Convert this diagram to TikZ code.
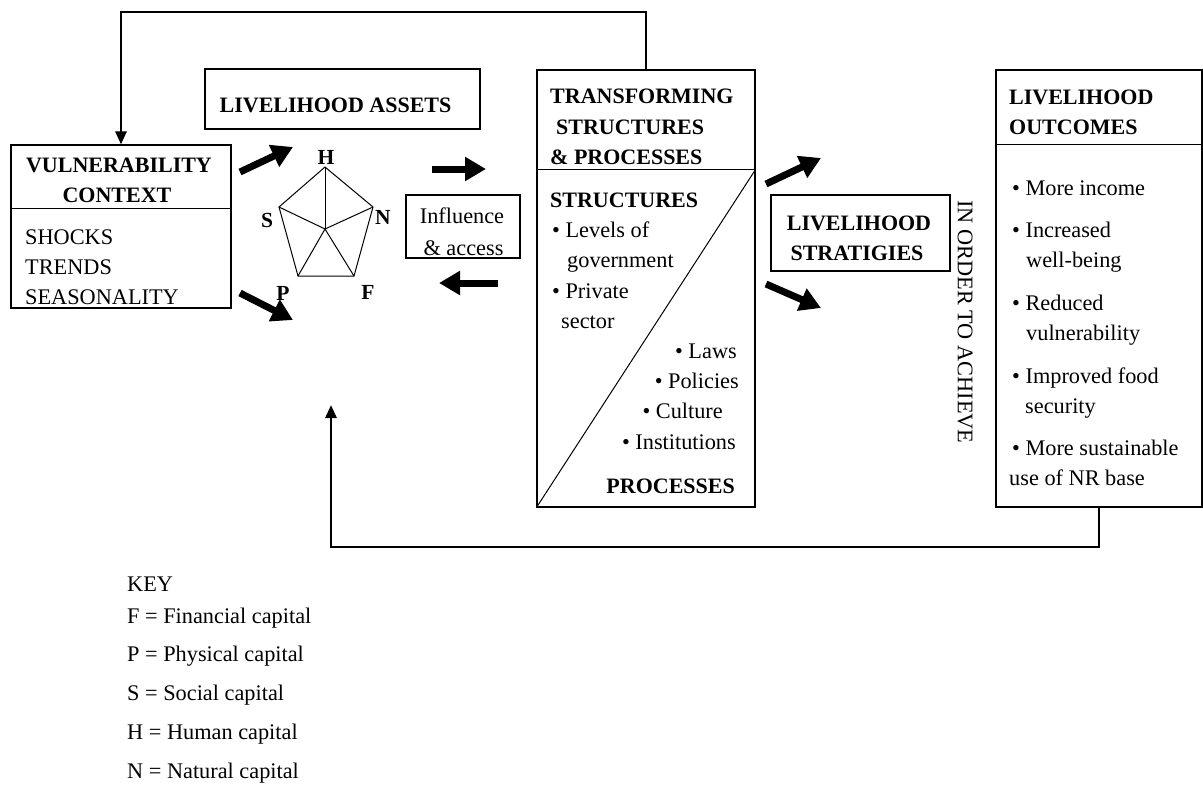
\documentclass[tikz,border=0pt]{standalone}
\usepackage{fontspec}
\setmainfont{Liberation Serif}
\usetikzlibrary{arrows.meta}
\tikzset{
box/.style={draw,line width=1.2pt,inner sep=0pt},
txt/.style={inner sep=0pt,font=\fontsize{22.3}{26}\selectfont},
hd/.style={inner sep=0pt,font=\fontsize{22}{26}\selectfont\bfseries},
lbl/.style={inner sep=0pt,font=\fontsize{21.5}{24}\selectfont\bfseries},
bigarrow/.style={line width=7pt,-{Triangle[length=21pt,width=23pt]}},
feedback/.style={line width=2.8pt,-{Triangle[length=13pt,width=11pt]}}
}
\begin{document}
\begin{tikzpicture}[x=1pt,y=-1pt]
\useasboundingbox (0,0) rectangle (1203,785);
\node[box,minimum width=220pt,minimum height=163pt] (vc) at (121,226.5) {};
\node[box,minimum width=275pt,minimum height=60pt] (la) at (342.5,99) {};
\node[box,minimum width=114pt,minimum height=63pt] (ia) at (463,226.5) {};
\node[box,minimum width=218pt,minimum height=437pt] (tsp) at (646,288.5) {};
\node[box,minimum width=179pt,minimum height=76pt] (ls) at (860.5,233) {};
\node[box,minimum width=206pt,minimum height=437pt] (lo) at (1099,288.5) {};
\draw[line width=1.2pt] ([yshift=-64pt]vc.north west) -- ([yshift=-64pt]vc.north east);
\draw[line width=1.2pt] ([yshift=-100pt]tsp.north west) -- ([yshift=-100pt]tsp.north east);
\draw[line width=1pt] (tsp.south west) -- ([yshift=-100pt]tsp.north east);
\draw[line width=1.2pt] ([yshift=-75pt]lo.north west) -- ([yshift=-75pt]lo.north east);
% assets pentagon
\coordinate (pc) at (325,229);
\foreach \v/\px/\py in {H/325/167,N/373/207,F/354/276,P/298/276,S/279/207}{\coordinate (\v) at (\px,\py);\draw[line width=1pt] (pc)--(\v);}
\draw[line width=1pt] (H)--(N)--(F)--(P)--(S)--cycle;
\foreach \v/\px/\py in {H/326/164,S/267/227,N/383/224,P/283/300,F/368/299}\node[lbl,anchor=base] (l\v) at (\px,\py) {\v};
% block arrows
\foreach \n/\ax/\ay/\bx/\by in {1/240/172/293/147,2/240/293/293/320,3/432/169/486/169,4/498/283/439/283,5/766/184/821/158,6/766/284/821/308}{\coordinate (s\n) at (\ax,\ay);\coordinate (e\n) at (\bx,\by);\draw[bigarrow] (s\n)--(e\n);}
% feedback loops
\coordinate (topline) at (400,12);
\coordinate (botline) at (700,547);
\coordinate (assettip) at (331,405);
\draw[feedback] (tsp.north) |- (topline) -| (vc.north);
\draw[feedback] (lo.south) |- (botline) -| (assettip);
% texts
\node[hd,anchor=base] (vc-h1) at (119,172) {VULNERABILITY};
\node[hd,anchor=base] (vc-h2) at (117,202) {CONTEXT};
\foreach \t/\yy [count=\i] in {SHOCKS/244,TRENDS/274,SEASONALITY/304}\node[txt,anchor=base west] (vc-\i) at (25,\yy) {\t};
\node[hd,anchor=base] (la-h) at (335.5,112) {LIVELIHOOD ASSETS};
\node[txt,anchor=base] (ia-1) at (462,223) {Influence};
\node[txt,anchor=base] (ia-2) at (463.5,255) {\& access};
\foreach \t/\xx/\yy [count=\i] in {TRANSFORMING/550/103,STRUCTURES/556/134,\& PROCESSES/550/164}\node[hd,anchor=base west] (tsp-h\i) at (\xx,\yy) {\t};
\node[hd,anchor=base west] (tsp-s) at (550,207) {STRUCTURES};
\foreach \t/\xx/\yy [count=\i] in {\textbullet\ Levels of/552/237,government/567/267,\textbullet\ Private/552/298,sector/561/328}\node[txt,anchor=base west] (tsp-a\i) at (\xx,\yy) {\t};
\foreach \t/\xx/\yy [count=\i] in {Laws/737/358,Policies/739/388,Culture/723/418,Institutions/736/449}\node[txt,anchor=base east] (tsp-b\i) at (\xx,\yy) {\textbullet\ \t};
\node[hd,anchor=base east] (tsp-p) at (735,493) {PROCESSES};
\node[hd,anchor=base] (ls-1) at (859,230) {LIVELIHOOD};
\node[hd,anchor=base] (ls-2) at (857,260) {STRATIGIES};
\node[txt,rotate=-90] (ach) at (965,322) {IN ORDER TO ACHIEVE};
\node[hd,anchor=base west] (lo-h1) at (1009,104) {LIVELIHOOD};
\node[hd,anchor=base west] (lo-h2) at (1009,134) {OUTCOMES};
\foreach \t/\xx/\yy [count=\i] in {\textbullet\ More income/1012/195,\textbullet\ Increased/1012/237,well-being/1026/267,\textbullet\ Reduced/1012/310,vulnerability/1026/340,\textbullet\ Improved food/1012/383,security/1025/413,\textbullet\ More sustainable/1012/455,use of NR base/1009/485}\node[txt,anchor=base west] (lo-\i) at (\xx,\yy) {\t};
% key
\foreach \t/\yy [count=\i] in {KEY/591,F = Financial capital/623,P = Physical capital/661,S = Social capital/700,H = Human capital/739,N = Natural capital/778}\node[txt,anchor=base west] (key-\i) at (127,\yy) {\t};
\end{tikzpicture}
\end{document}
